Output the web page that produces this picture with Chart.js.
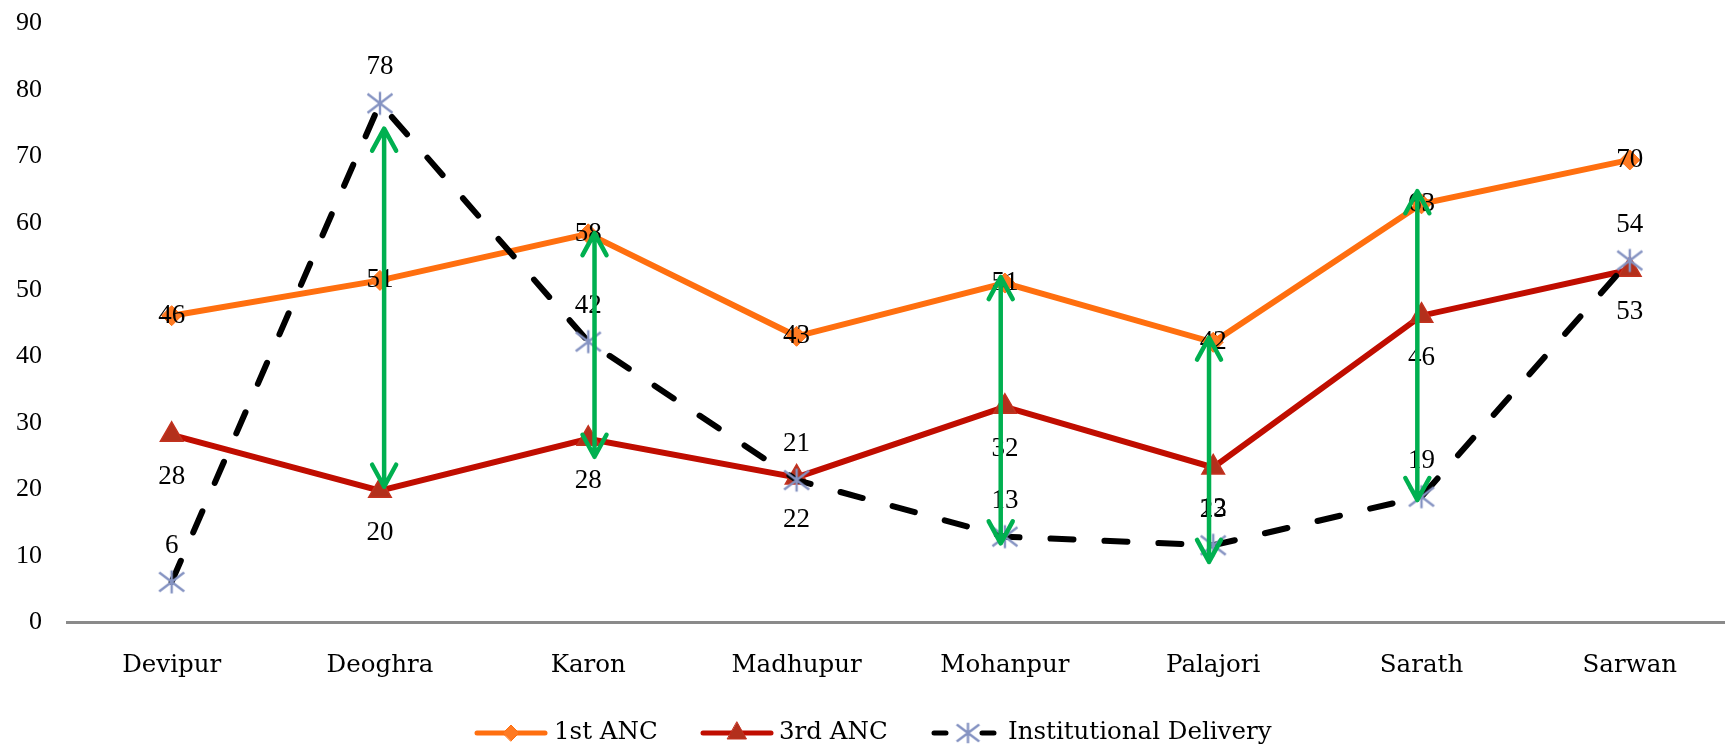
<!DOCTYPE html>
<html>
<head>
<meta charset="utf-8">
<script src="https://cdn.jsdelivr.net/npm/chart.js@4.4.0/dist/chart.umd.min.js"></script>
<style>
  html, body { margin: 0; padding: 0; background: #ffffff; }
  #wrap { width: 1725px; height: 747px; }
</style>
</head>
<body>
<div id="wrap"><canvas id="c" width="1725" height="747"></canvas></div>
<script>
// ---------------- data ----------------
const categories = ['Devipur', 'Deoghra', 'Karon', 'Madhupur', 'Mohanpur', 'Palajori', 'Sarath', 'Sarwan'];
const seriesNames = ['1st ANC', '3rd ANC', 'Institutional Delivery'];
const anc1 = [46.1, 51.4, 58.4, 43.0, 51.0, 42.1, 62.9, 69.5];
const anc3 = [28.2, 19.8, 27.6, 21.8, 32.4, 23.3, 46.1, 53.0];
const instDelivery = [6.1, 78.0, 42.2, 21.4, 12.9, 11.6, 18.9, 54.4];
const yTickValues = [0, 10, 20, 30, 40, 50, 60, 70, 80, 90];
// green double-headed "gap" arrows (category position, top value, bottom value)
const arrowAt = [1.02, 2.03, 3.98, 4.98, 5.98];
const arrowTop = [74.2, 58.5, 51.9, 42.8, 64.8];
const arrowBottom = [20.4, 24.9, 11.9, 9.1, 18.4];

// ---------------- styles ----------------
const ORANGE = '#ff6f0f';
const RED = '#c00d00';
const RED_MARK = '#b3301c';
const STAR = '#8593c2';
const GREEN = '#00b050';
const NUM_FONT = '"Liberation Serif", "Times New Roman", serif';
const CAT_FONT = '"DejaVu Serif", serif';

function makeStar(scale) {
  const w = 30 * scale, h = 28 * scale;
  const c = document.createElement('canvas');
  c.width = Math.ceil(w); c.height = Math.ceil(h);
  const g = c.getContext('2d');
  const cx = c.width / 2, cy = c.height / 2;
  g.strokeStyle = STAR; g.lineWidth = 2.4; g.lineCap = 'butt';
  g.beginPath();
  g.moveTo(cx, cy - 11.5 * scale); g.lineTo(cx, cy + 11.5 * scale);
  g.moveTo(cx - 12.5 * scale, cy - 9.5 * scale); g.lineTo(cx + 12.5 * scale, cy + 9.5 * scale);
  g.moveTo(cx - 12.5 * scale, cy + 9.5 * scale); g.lineTo(cx + 12.5 * scale, cy - 9.5 * scale);
  g.stroke();
  return c;
}
const starImg = makeStar(1);
const starLegend = makeStar(0.9);

const toPts = arr => arr.map((v, i) => ({ x: i, y: v }));

const labelsAndArrows = {
  id: 'labelsAndArrows',
  afterDatasetsDraw(chart) {
    const ctx = chart.ctx, xs = chart.scales.x, ys = chart.scales.y;
    ctx.save();
    ctx.font = '27px ' + NUM_FONT;
    ctx.fillStyle = '#000';
    ctx.textAlign = 'center';
    ctx.textBaseline = 'middle';
    anc1.forEach((v, i) => ctx.fillText(String(Math.round(v)), xs.getPixelForValue(i), ys.getPixelForValue(v)));
    anc3.forEach((v, i) => ctx.fillText(String(Math.round(v)), xs.getPixelForValue(i), ys.getPixelForValue(v) + 42));
    instDelivery.forEach((v, i) => ctx.fillText(String(Math.round(v)), xs.getPixelForValue(i), ys.getPixelForValue(v) - 36));
    // arrows
    ctx.strokeStyle = GREEN; ctx.lineWidth = 4.5; ctx.lineCap = 'round'; ctx.lineJoin = 'round';
    arrowAt.forEach((a, k) => {
      const x = xs.getPixelForValue(a);
      const y1 = ys.getPixelForValue(arrowTop[k]);
      const y2 = ys.getPixelForValue(arrowBottom[k]);
      ctx.beginPath();
      ctx.moveTo(x, y1); ctx.lineTo(x, y2);
      ctx.moveTo(x - 12, y1 + 22); ctx.lineTo(x, y1); ctx.lineTo(x + 12, y1 + 22);
      ctx.moveTo(x - 12, y2 - 22); ctx.lineTo(x, y2); ctx.lineTo(x + 12, y2 - 22);
      ctx.stroke();
    });
    ctx.restore();
  },
  afterDraw(chart) {
    // legend (line + marker + text)
    const ctx = chart.ctx;
    const ly = 733;
    const items = [
      { x0: 475, tx: 554, name: seriesNames[0], type: 'diamond' },
      { x0: 701, tx: 779, name: seriesNames[1], type: 'triangle' },
      { x0: 932, tx: 1008, name: seriesNames[2], type: 'star' }
    ];
    ctx.save();
    items.forEach(it => {
      const cx = it.x0 + 36;
      ctx.lineWidth = 5; ctx.lineCap = 'round';
      if (it.type === 'star') {
        ctx.strokeStyle = '#000';
        ctx.beginPath(); ctx.moveTo(it.x0 + 2, ly); ctx.lineTo(it.x0 + 14, ly);
        ctx.moveTo(it.x0 + 50, ly); ctx.lineTo(it.x0 + 62, ly); ctx.stroke();
        ctx.drawImage(starLegend, it.x0 + 36 - starLegend.width / 2, ly - starLegend.height / 2);
      } else {
        ctx.strokeStyle = it.type === 'diamond' ? ORANGE : RED;
        ctx.beginPath(); ctx.moveTo(it.x0 + 2, ly); ctx.lineTo(it.x0 + 70, ly); ctx.stroke();
        if (it.type === 'diamond') {
          ctx.fillStyle = '#ff7a22'; ctx.strokeStyle = ORANGE; ctx.lineWidth = 1;
          ctx.beginPath(); ctx.moveTo(cx - 8, ly); ctx.lineTo(cx, ly - 8); ctx.lineTo(cx + 8, ly); ctx.lineTo(cx, ly + 8); ctx.closePath();
          ctx.fill(); ctx.stroke();
        } else {
          ctx.fillStyle = RED_MARK; ctx.strokeStyle = '#c3321f'; ctx.lineWidth = 1;
          ctx.beginPath(); ctx.moveTo(cx, ly - 11); ctx.lineTo(cx + 9.5, ly + 6); ctx.lineTo(cx - 9.5, ly + 6); ctx.closePath();
          ctx.fill(); ctx.stroke();
        }
      }
      ctx.fillStyle = '#000';
      ctx.font = '24.5px ' + CAT_FONT;
      ctx.textAlign = 'left'; ctx.textBaseline = 'middle';
      ctx.fillText(it.name, it.tx, ly);
    });
    ctx.restore();
  }
};

new Chart(document.getElementById('c'), {
  type: 'line',
  data: {
    datasets: [
      {
        label: seriesNames[0], data: toPts(anc1), order: 3,
        borderColor: ORANGE, borderWidth: 6, tension: 0,
        pointStyle: 'rectRot', pointRadius: 10, pointHoverRadius: 10,
        pointBackgroundColor: '#ff7a22', pointBorderColor: ORANGE, pointBorderWidth: 1
      },
      {
        label: seriesNames[1], data: toPts(anc3), order: 2,
        borderColor: RED, borderWidth: 6, tension: 0,
        pointStyle: 'triangle', pointRadius: 13, pointHoverRadius: 13,
        pointBackgroundColor: RED_MARK, pointBorderColor: '#c3321f', pointBorderWidth: 1.5
      },
      {
        label: seriesNames[2], data: toPts(instDelivery), order: 1,
        borderColor: '#000000', borderWidth: 6, tension: 0,
        borderDash: [23, 31], borderCapStyle: 'round',
        pointStyle: starImg, pointRadius: 12, pointHoverRadius: 12
      }
    ]
  },
  options: {
    responsive: false,
    animation: false,
    devicePixelRatio: 1,
    layout: { autoPadding: false, padding: { top: 23.5, left: 16, right: 0, bottom: 67.1 } },
    plugins: { legend: { display: false }, tooltip: { enabled: false } },
    scales: {
      x: {
        type: 'linear', min: -0.5, max: 7.457,
        grid: { display: false, drawTicks: false },
        border: { display: true, color: '#8a8a8a', width: 3 },
        ticks: {
          stepSize: 1, includeBounds: false, autoSkip: false, maxRotation: 0, padding: 28.6,
          color: '#000', font: { family: CAT_FONT, size: 24.5 },
          callback: v => (Number.isInteger(v) && categories[v] !== undefined) ? categories[v] : ''
        },
        afterFit: s => { s.height = 57.4; s.paddingLeft = 0; s.paddingRight = 0; s.paddingTop = 0; s.paddingBottom = 0; }
      },
      y: {
        min: 0, max: 90,
        afterBuildTicks: axis => { axis.ticks = yTickValues.map(v => ({ value: v })); },
        grid: { display: false, drawTicks: false },
        border: { display: false },
        ticks: { padding: 25.5, color: '#000', font: { family: NUM_FONT, size: 26 } },
        afterFit: s => { s.width = 51.5; s.paddingLeft = 0; s.paddingRight = 0; s.paddingTop = 0; s.paddingBottom = 0; }
      }
    }
  },
  plugins: [labelsAndArrows]
});
</script>
</body>
</html>
